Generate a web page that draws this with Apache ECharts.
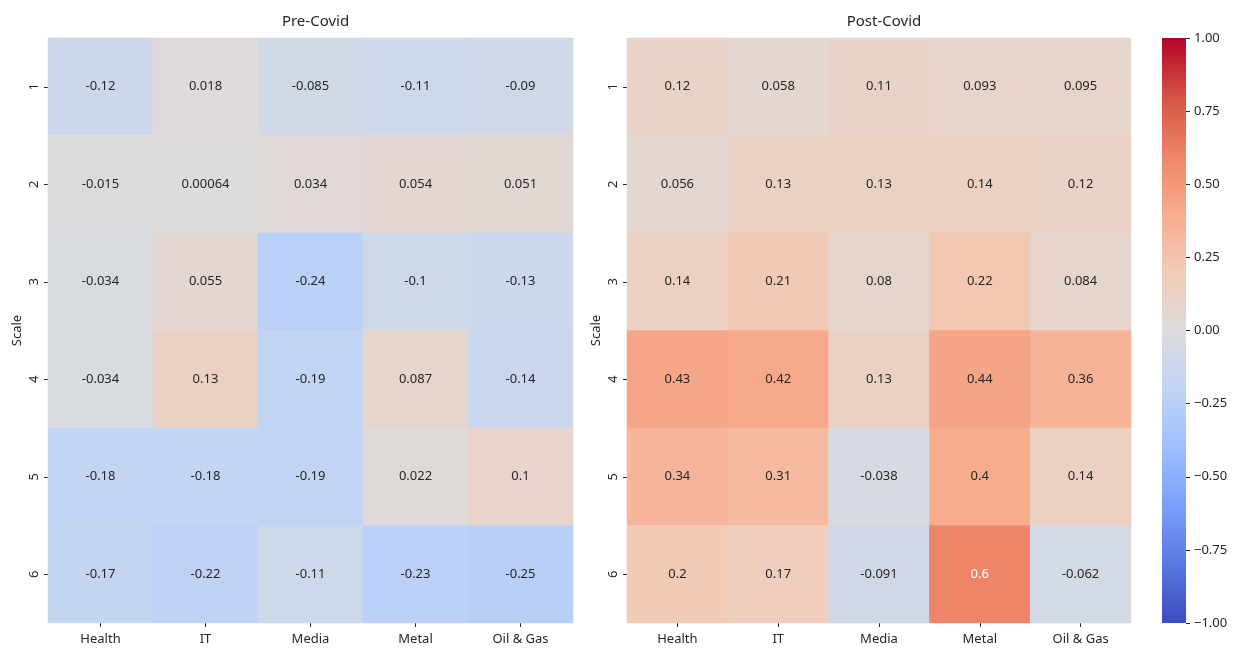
<!DOCTYPE html>
<html>
<head>
<meta charset="utf-8">
<script src="https://cdn.jsdelivr.net/npm/echarts@6/dist/echarts.min.js"></script>
<style>html,body{margin:0;padding:0;background:#fff;}#c{width:1244px;height:653px;}</style>
</head>
<body>
<div id="c"></div>
<script>
const sectors = ['Health', 'IT', 'Media', 'Metal', 'Oil & Gas'];
const scales = ['1', '2', '3', '4', '5', '6'];
const preCovid = [
  [-0.12, 0.018, -0.085, -0.11, -0.09],
  [-0.015, 0.00064, 0.034, 0.054, 0.051],
  [-0.034, 0.055, -0.24, -0.1, -0.13],
  [-0.034, 0.13, -0.19, 0.087, -0.14],
  [-0.18, -0.18, -0.19, 0.022, 0.1],
  [-0.17, -0.22, -0.11, -0.23, -0.25]
];
const postCovid = [
  [0.12, 0.058, 0.11, 0.093, 0.095],
  [0.056, 0.13, 0.13, 0.14, 0.12],
  [0.14, 0.21, 0.08, 0.22, 0.084],
  [0.43, 0.42, 0.13, 0.44, 0.36],
  [0.34, 0.31, -0.038, 0.4, 0.14],
  [0.2, 0.17, -0.091, 0.6, -0.062]
];
const titles = ['Pre-Covid', 'Post-Covid'];
const colorbarTicks = [-1, -0.75, -0.5, -0.25, 0, 0.25, 0.5, 0.75, 1];
const coolwarm = ['#3b4cc0', '#5977e3', '#7b9ff9', '#9ebeff', '#c0d4f5', '#dddcdc', '#f2cbb7', '#f7ac8e', '#ee8468', '#d65244', '#b40426'];

const FONT = 'Noto Sans';
const TXT = '#262626';

function toData(m) {
  const out = [];
  m.forEach((row, r) => row.forEach((v, c) => {
    out.push({ value: [c, r, v], label: { color: Math.abs(v) > 0.5 ? '#ffffff' : TXT } });
  }));
  return out;
}

const barGradient = new echarts.graphic.LinearGradient(0, 1, 0, 0,
  coolwarm.map((c, i) => ({ offset: i / (coolwarm.length - 1), color: c })));

const grids = [
  { left: 48, top: 38, width: 525, height: 585 },
  { left: 627, top: 38, width: 504, height: 585 },
  { left: 1162, top: 38, width: 24, height: 585, show: true, borderWidth: 0, backgroundColor: barGradient }
];

const xAxes = [0, 1].map(i => ({
  type: 'category', gridIndex: i, data: sectors,
  axisLine: { show: false },
  axisTick: { show: true, alignWithLabel: true, length: 4, lineStyle: { color: TXT } },
  axisLabel: { color: TXT, fontFamily: FONT, fontSize: 13, margin: 10 },
  splitLine: { show: false }, splitArea: { show: false }
}));
xAxes.push({ type: 'value', gridIndex: 2, show: false, min: 0, max: 1 });

const yAxes = [0, 1].map(i => ({
  type: 'category', gridIndex: i, data: scales, inverse: true,
  name: 'Scale', nameLocation: 'middle', nameGap: 24, nameRotate: 90,
  nameTextStyle: { color: TXT, fontFamily: FONT, fontSize: 13 },
  axisLine: { show: false },
  axisTick: { show: true, alignWithLabel: true, length: 4, lineStyle: { color: TXT } },
  axisLabel: { color: TXT, fontFamily: FONT, fontSize: 13, rotate: 90, margin: 7 },
  splitLine: { show: false }, splitArea: { show: false }
}));
yAxes.push({
  type: 'value', gridIndex: 2, position: 'right', min: -1, max: 1, interval: 0.25,
  axisLine: { show: false, onZero: false },
  axisTick: { show: true, inside: false, length: 4, lineStyle: { color: TXT } },
  axisLabel: { color: TXT, fontFamily: FONT, fontSize: 13, margin: 8,
    formatter: v => v.toFixed(2).replace('-', '\u2212') },
  splitLine: { show: false }
});

const option = {
  animation: false,
  backgroundColor: '#ffffff',
  title: titles.map((t, i) => ({
    text: t, left: grids[i].left + grids[i].width / 2, top: 9, textAlign: 'center',
    textStyle: { fontFamily: FONT, fontSize: 15, fontWeight: 'normal', color: TXT }
  })),
  grid: grids,
  xAxis: xAxes,
  yAxis: yAxes,
  visualMap: {
    type: 'continuous', min: -1, max: 1, show: false, seriesIndex: [0, 1],
    inRange: { color: coolwarm }
  },
  series: [preCovid, postCovid].map((m, i) => ({
    type: 'heatmap', xAxisIndex: i, yAxisIndex: i, data: toData(m),
    label: { show: true, fontFamily: FONT, fontSize: 13, formatter: p => String(p.value[2]) },
    itemStyle: { borderWidth: 0 },
    emphasis: { disabled: true }
  }))
};

const chart = echarts.init(document.getElementById('c'), null, { renderer: 'canvas' });
chart.setOption(option);
</script>
</body>
</html>
